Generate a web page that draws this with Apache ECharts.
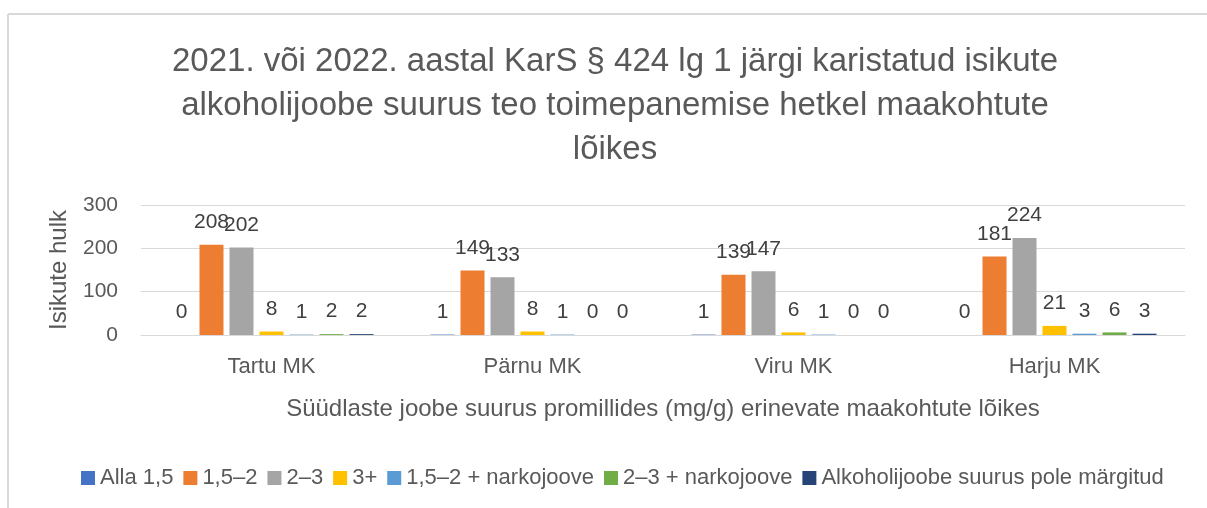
<!DOCTYPE html>
<html>
<head>
<meta charset="utf-8">
<style>
  html, body { margin: 0; padding: 0; background: #fff; }
  #main { width: 1207px; height: 508px; }
</style>
</head>
<body>
<div id="main"></div>
<script src="https://cdn.jsdelivr.net/npm/echarts@6/dist/echarts.min.js"></script>
<script>
// andmed
var kohtud = ['Tartu MK', 'Pärnu MK', 'Viru MK', 'Harju MK'];
var seeriaNimed = ['Alla 1,5', '1,5–2', '2–3', '3+', '1,5–2 + narkojoove', '2–3 + narkojoove', 'Alkoholijoobe suurus pole märgitud'];
var alla15 = [0, 1, 1, 0];
var v15_2 = [208, 149, 139, 181];
var v2_3 = [202, 133, 147, 224];
var v3pluss = [8, 8, 6, 21];
var v15_2narko = [1, 1, 1, 3];
var v2_3narko = [2, 0, 0, 6];
var margimata = [2, 0, 0, 3];
var yTicks = [0, 100, 200, 300];

var colors = ['#4472C4', '#ED7D31', '#A5A5A5', '#FFC000', '#5B9BD5', '#70AD47', '#264478'];
var font = 'Liberation Sans';

var myChart = echarts.init(document.getElementById('main'));

var koikAndmed = [alla15, v15_2, v2_3, v3pluss, v15_2narko, v2_3narko, margimata];
var series = koikAndmed.map(function (d, i) {
    return {
        name: seeriaNimed[i],
        type: 'bar',
        data: d,
        barWidth: 24,
        barGap: '25%',
        label: {
            show: true,
            position: 'top',
            distance: 12,
            color: '#404040',
            fontSize: 21,
            fontFamily: font
        }
    };
});

var option = {
    color: colors,
    animation: false,
    title: {
        text: '2021. või 2022. aastal KarS § 424 lg 1 järgi karistatud isikute\nalkoholijoobe suurus teo toimepanemise hetkel maakohtute\nlõikes',
        left: 610,
        textAlign: 'center',
        top: 35,
        textStyle: {
            fontFamily: font,
            fontWeight: 'normal',
            fontSize: 33,
            lineHeight: 44,
            color: '#595959'
        }
    },
    legend: {
        bottom: 14,
        left: 76,
        itemWidth: 14,
        itemHeight: 14,
        itemGap: 10,
        icon: 'rect',
        textStyle: { fontFamily: font, fontSize: 22, color: '#595959' },
        data: seeriaNimed
    },
    grid: { left: 141, right: 22, top: 205, bottom: 173 },
    xAxis: {
        type: 'category',
        data: kohtud,
        axisLine: { lineStyle: { color: '#d9d9d9' } },
        axisTick: { show: false },
        axisLabel: { color: '#595959', fontSize: 22, fontFamily: font, margin: 21 },
        name: 'Süüdlaste joobe suurus promillides (mg/g) erinevate maakohtute lõikes',
        nameLocation: 'middle',
        nameGap: 62,
        nameTextStyle: { color: '#595959', fontSize: 24, fontFamily: font }
    },
    yAxis: {
        type: 'value',
        min: yTicks[0],
        max: yTicks[yTicks.length - 1],
        interval: 100,
        axisLine: { show: false },
        axisTick: { show: false },
        splitLine: { lineStyle: { color: '#d9d9d9' } },
        axisLabel: { color: '#595959', fontSize: 21, fontFamily: font, margin: 23 },
        name: 'Isikute hulk',
        nameLocation: 'middle',
        nameGap: 70,
        nameTextStyle: { color: '#595959', fontSize: 24, fontFamily: font }
    },
    graphic: [
        { type: 'line', shape: { x1: 8, y1: 14, x2: 1207, y2: 14 }, style: { stroke: '#d9d9d9', lineWidth: 2 } },
        { type: 'line', shape: { x1: 8, y1: 14, x2: 8, y2: 508 }, style: { stroke: '#d9d9d9', lineWidth: 2 } }
    ],
    series: series
};

myChart.setOption(option);
</script>
</body>
</html>
